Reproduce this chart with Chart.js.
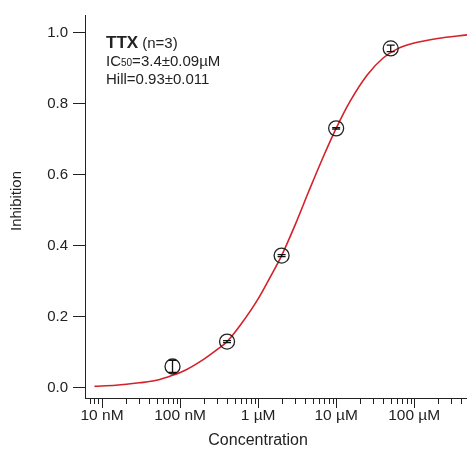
<!DOCTYPE html>
<html>
<head>
<meta charset="utf-8">
<script src="https://cdn.jsdelivr.net/npm/chart.js@4.4.1/dist/chart.umd.min.js"></script>
<style>
  html, body { margin: 0; padding: 0; background: #fff; }
  #wrap { width: 467px; height: 454px; position: relative; }
</style>
</head>
<body>
<div id="wrap"><canvas id="c" width="467" height="454"></canvas></div>
<script>
// ---- data (concentration in mol/L) ----
const concentrations = [8e-8, 4e-7, 2e-6, 1e-5, 5e-5];
const inhibition     = [0.060, 0.130, 0.372, 0.730, 0.955];
const inhibitionErr  = [0.017, 0.003, 0.003, 0.002, 0.009];

// fitted curve
const fitConc   = [8e-9, 1.5e-8, 3e-8, 5e-8, 8e-8, 1.2e-7, 2e-7, 3e-7, 4e-7, 6e-7, 1e-6, 1.5e-6, 2e-6, 3e-6, 4.5e-6, 7e-6, 1e-5, 1.5e-5, 2.5e-5, 4e-5, 6e-5, 1e-4, 2e-4, 4.75e-4];
const fitValues = [0.004, 0.007, 0.014, 0.021, 0.035, 0.051, 0.080, 0.108, 0.130, 0.178, 0.250, 0.320, 0.372, 0.460, 0.555, 0.655, 0.730, 0.805, 0.880, 0.928, 0.953, 0.970, 0.983, 0.993];

const xMajorTicks  = [1e-8, 1e-7, 1e-6, 1e-5, 1e-4];
const xTickLabels  = ['10 nM', '100 nM', '1 µM', '10 µM', '100 µM'];
const yTicks       = [0.0, 0.2, 0.4, 0.6, 0.8, 1.0];
const yTickLabels  = ['0.0', '0.2', '0.4', '0.6', '0.8', '1.0'];

const xMin = 6.05e-9, xMax = 4.75e-4;
const yMin = -0.0287, yMax = 1.049;

// all x tick positions (majors + 2..9 minors)
const xAllTicks = [];
[1e-9, 1e-8, 1e-7, 1e-6, 1e-5, 1e-4].forEach(d => {
  for (let k = 1; k <= 9; k++) {
    const v = d * k;
    if (v >= xMin && v <= xMax) xAllTicks.push(v);
  }
});

const FONT = '"Liberation Sans", Arial, Helvetica, sans-serif';
const INK = '#222';
const RED = '#d3222b';

const extras = {
  id: 'extras',
  afterDatasetsDraw(chart) {
    const ctx = chart.ctx, xs = chart.scales.x, ys = chart.scales.y;
    ctx.save();
    ctx.strokeStyle = '#111';
    ctx.lineWidth = 1.3;
    concentrations.forEach((c, i) => {
      const px = xs.getPixelForValue(c);
      const y1 = ys.getPixelForValue(inhibition[i] - inhibitionErr[i]);
      const y2 = ys.getPixelForValue(inhibition[i] + inhibitionErr[i]);
      ctx.beginPath();
      ctx.moveTo(px, y1); ctx.lineTo(px, y2);
      ctx.moveTo(px - 4, y1); ctx.lineTo(px + 4, y1);
      ctx.moveTo(px - 4, y2); ctx.lineTo(px + 4, y2);
      ctx.stroke();
    });
    ctx.restore();
  },
  afterDraw(chart) {
    const ctx = chart.ctx, xs = chart.scales.x, ys = chart.scales.y;
    ctx.save();
    ctx.strokeStyle = INK;
    ctx.lineWidth = 1;
    const top = xs.top;
    xAllTicks.forEach(v => {
      const px = Math.round(xs.getPixelForValue(v)) + 0.5;
      const major = xMajorTicks.some(m => Math.abs(m - v) / m < 1e-6);
      ctx.beginPath();
      ctx.moveTo(px, top);
      ctx.lineTo(px, top + (major ? 10 : 6));
      ctx.stroke();
    });
    ctx.fillStyle = INK;
    ctx.font = '16px ' + FONT;
    ctx.textAlign = 'center';
    ctx.textBaseline = 'middle';
    ctx.fillText('Concentration', xs.getPixelForValue(1e-6), 441);
    ctx.save();
    ctx.translate(17, 201);
    ctx.rotate(-Math.PI / 2);
    ctx.font = '15px ' + FONT;
    ctx.fillText('Inhibition', 0, 0);
    ctx.restore();
    ctx.textAlign = 'left';
    ctx.textBaseline = 'alphabetic';
    let x0 = 106;
    ctx.font = 'bold 17px ' + FONT;
    ctx.fillText('TTX', x0, 48);
    let w = ctx.measureText('TTX').width;
    ctx.font = '15px ' + FONT;
    ctx.fillText(' (n=3)', x0 + w, 48);
    ctx.fillText('IC', x0, 66);
    w = ctx.measureText('IC').width;
    ctx.font = '10px ' + FONT;
    ctx.fillText('50', x0 + w, 66);
    w += ctx.measureText('50').width;
    ctx.font = '15px ' + FONT;
    ctx.fillText('=3.4±0.09µM', x0 + w, 66);
    ctx.fillText('Hill=0.93±0.011', x0, 84);
    ctx.restore();
  }
};

new Chart(document.getElementById('c'), {
  type: 'scatter',
  data: {
    datasets: [
      {
        label: 'TTX',
        data: concentrations.map((c, i) => ({ x: c, y: inhibition[i] })),
        pointStyle: 'circle',
        pointRadius: 7.5,
        pointHoverRadius: 7.5,
        borderColor: '#222',
        borderWidth: 1.3,
        backgroundColor: 'rgba(255,255,255,0)',
        showLine: false,
        order: 0
      },
      {
        label: 'fit',
        data: fitConc.map((c, i) => ({ x: c, y: fitValues[i] })),
        showLine: true,
        pointRadius: 0,
        borderColor: RED,
        borderWidth: 1.6,
        cubicInterpolationMode: 'monotone',
        fill: false,
        order: 1
      }
    ]
  },
  options: {
    responsive: false,
    animation: false,
    events: [],
    layout: { autoPadding: false, padding: { top: 15, right: 0, left: 0, bottom: 0 } },
    plugins: { legend: { display: false }, tooltip: { enabled: false } },
    scales: {
      x: {
        type: 'logarithmic',
        position: 'bottom',
        min: xMin,
        max: xMax,
        afterBuildTicks: (s) => { s.ticks = xMajorTicks.map(v => ({ value: v })); },
        afterFit: (s) => { s.height = 56; s.paddingLeft = 0; s.paddingRight = 0; },
        ticks: {
          autoSkip: false,
          maxRotation: 0,
          minRotation: 0,
          padding: 0,
          color: INK,
          font: { family: FONT, size: 15.5 },
          callback: (v) => {
            const i = xMajorTicks.findIndex(m => Math.abs(m - v) / m < 1e-6);
            return i >= 0 ? xTickLabels[i] : '';
          }
        },
        grid: { display: true, drawOnChartArea: false, drawTicks: true, tickLength: 8, tickColor: 'rgba(0,0,0,0)' },
        border: { display: true, color: INK, width: 1 },
        title: { display: false }
      },
      y: {
        type: 'linear',
        min: yMin,
        max: yMax,
        afterBuildTicks: (s) => { s.ticks = yTicks.map(v => ({ value: v })); },
        afterFit: (s) => { s.width = 85; s.paddingTop = 0; s.paddingBottom = 0; },
        ticks: {
          padding: 5,
          color: INK,
          font: { family: FONT, size: 15 },
          callback: (v) => {
            const i = yTicks.findIndex(t => Math.abs(t - v) < 1e-6);
            return i >= 0 ? yTickLabels[i] : '';
          }
        },
        grid: { display: true, drawOnChartArea: false, drawTicks: true, tickLength: 12, tickColor: INK },
        border: { display: true, color: INK, width: 1 },
        title: { display: false }
      }
    }
  },
  plugins: [extras]
});
</script>
</body>
</html>
